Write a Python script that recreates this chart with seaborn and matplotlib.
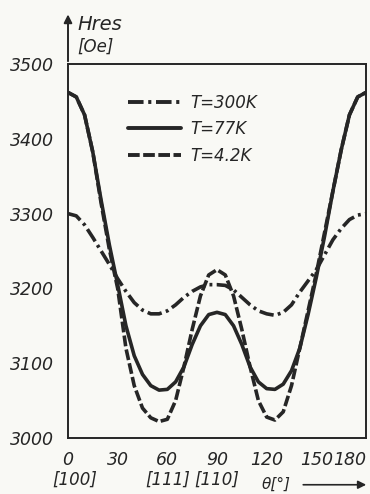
import numpy as np
import pandas as pd
import matplotlib
matplotlib.use("Agg")
import matplotlib.pyplot as plt
import seaborn as sns
from matplotlib.lines import Line2D

theta = list(range(0, 181, 5))
h_300K = [3300, 3297, 3285, 3268, 3250, 3232, 3213, 3196, 3181, 3171, 3166, 3166, 3170,
          3178, 3188, 3196, 3202, 3205, 3205, 3204, 3198, 3188, 3178, 3170, 3166, 3164,
          3168, 3178, 3195, 3210, 3225, 3245, 3265, 3280, 3292, 3298, 3300]
h_77K = [3462, 3456, 3432, 3382, 3318, 3258, 3205, 3150, 3110, 3085, 3070, 3064, 3065,
         3075, 3095, 3125, 3150, 3165, 3168, 3165, 3150, 3125, 3095, 3075, 3066, 3065,
         3072, 3090, 3120, 3165, 3215, 3270, 3330, 3385, 3432, 3456, 3462]
h_4K = [3462, 3456, 3432, 3382, 3314, 3252, 3200, 3120, 3070, 3040, 3027, 3022, 3025,
        3050, 3095, 3145, 3190, 3218, 3225, 3218, 3190, 3145, 3095, 3050, 3028, 3024,
        3035, 3070, 3120, 3170, 3220, 3275, 3330, 3385, 3432, 3456, 3462]
series_labels = ["T=300K", "T=77K", "T=4.2K"]
x_ticks = [0, 30, 60, 90, 120, 150, 180]
y_ticks = [3000, 3100, 3200, 3300, 3400, 3500]
dir_labels = {0: "[100]", 60: "[111]", 90: "[110]"}

df = pd.DataFrame({
    "theta": theta * 3,
    "H": h_300K + h_77K + h_4K,
    "T": [series_labels[0]] * len(theta) + [series_labels[1]] * len(theta) + [series_labels[2]] * len(theta),
})

ink = "#262626"
bg = "#f9f9f5"
sns.set_style("white")
plt.rcParams["font.family"] = ["DejaVu Sans"]

fig = plt.figure(figsize=(3.70, 4.94), dpi=100, facecolor=bg)
ax = fig.add_axes([68 / 370, 1 - 438 / 494, 298 / 370, 374 / 494])
ax.set_facecolor(bg)

dashes = {
    "T=300K": (4.0, 1.2, 0.8, 1.2),
    "T=77K": "",
    "T=4.2K": (3.0, 0.9),
}
palette = {k: ink for k in series_labels}
sns.lineplot(data=df, x="theta", y="H", hue="T", style="T", dashes=dashes,
             palette=palette, linewidth=2.6, ax=ax, legend=False, sort=False)

ax.set_xlim(0, 180)
ax.set_ylim(3000, 3500)
ax.set_xticks(x_ticks)
ax.set_yticks(y_ticks)
tf = dict(fontsize=12.5, style="italic", color=ink)
ax.set_xticklabels([str(v) for v in x_ticks], **tf)
ax.set_yticklabels([str(v) for v in y_ticks], **tf)
ax.tick_params(axis="both", direction="in", length=6, width=1.3, color=ink, pad=9)
ax.tick_params(axis="y", pad=10)
xl = ax.get_xticklabels()
xl[-1].set_horizontalalignment("right")
for s in ax.spines.values():
    s.set_color(ink)
    s.set_linewidth(1.4)
ax.set_xlabel("")
ax.set_ylabel("")

# direction labels
for k, v in dir_labels.items():
    ax.text(k + (4 if k == 0 else 0), -0.112, v, transform=ax.get_xaxis_transform(),
            ha="center", va="center", fontsize=12, style="italic", color=ink)

# x-axis label with arrow
ax.text(0.70, -0.123, "θ[°]", transform=ax.transAxes, ha="center", va="center",
        fontsize=11, style="italic", color=ink)
ax.annotate("", xy=(1.01, -0.125), xytext=(0.78, -0.125), xycoords="axes fraction",
            arrowprops=dict(arrowstyle="-|>", color=ink, lw=1.2, mutation_scale=12),
            annotation_clip=False)

# y-axis arrow and label
ax.annotate("", xy=(0, 1.14), xytext=(0, 1.0), xycoords="axes fraction",
            arrowprops=dict(arrowstyle="-|>", color=ink, lw=1.4, mutation_scale=12),
            annotation_clip=False)
ax.text(0.032, 1.105, "Hres", transform=ax.transAxes, ha="left", va="center",
        fontsize=14, style="italic", color=ink)
ax.text(0.032, 1.045, "[Oe]", transform=ax.transAxes, ha="left", va="center",
        fontsize=12, style="italic", color=ink)

# legend
handles = []
for s in series_labels:
    h = Line2D([], [], color=ink, lw=2.8)
    if dashes[s]:
        h.set_dashes(dashes[s])
    handles.append(h)
leg = ax.legend(handles, series_labels, loc="upper left", bbox_to_anchor=(0.15, 0.96),
                frameon=False, handlelength=3.2, labelspacing=0.5, handletextpad=0.55,
                prop=dict(size=12, style="italic"))
for t in leg.get_texts():
    t.set_color(ink)

fig.savefig("out.png", dpi=100, facecolor=bg)
